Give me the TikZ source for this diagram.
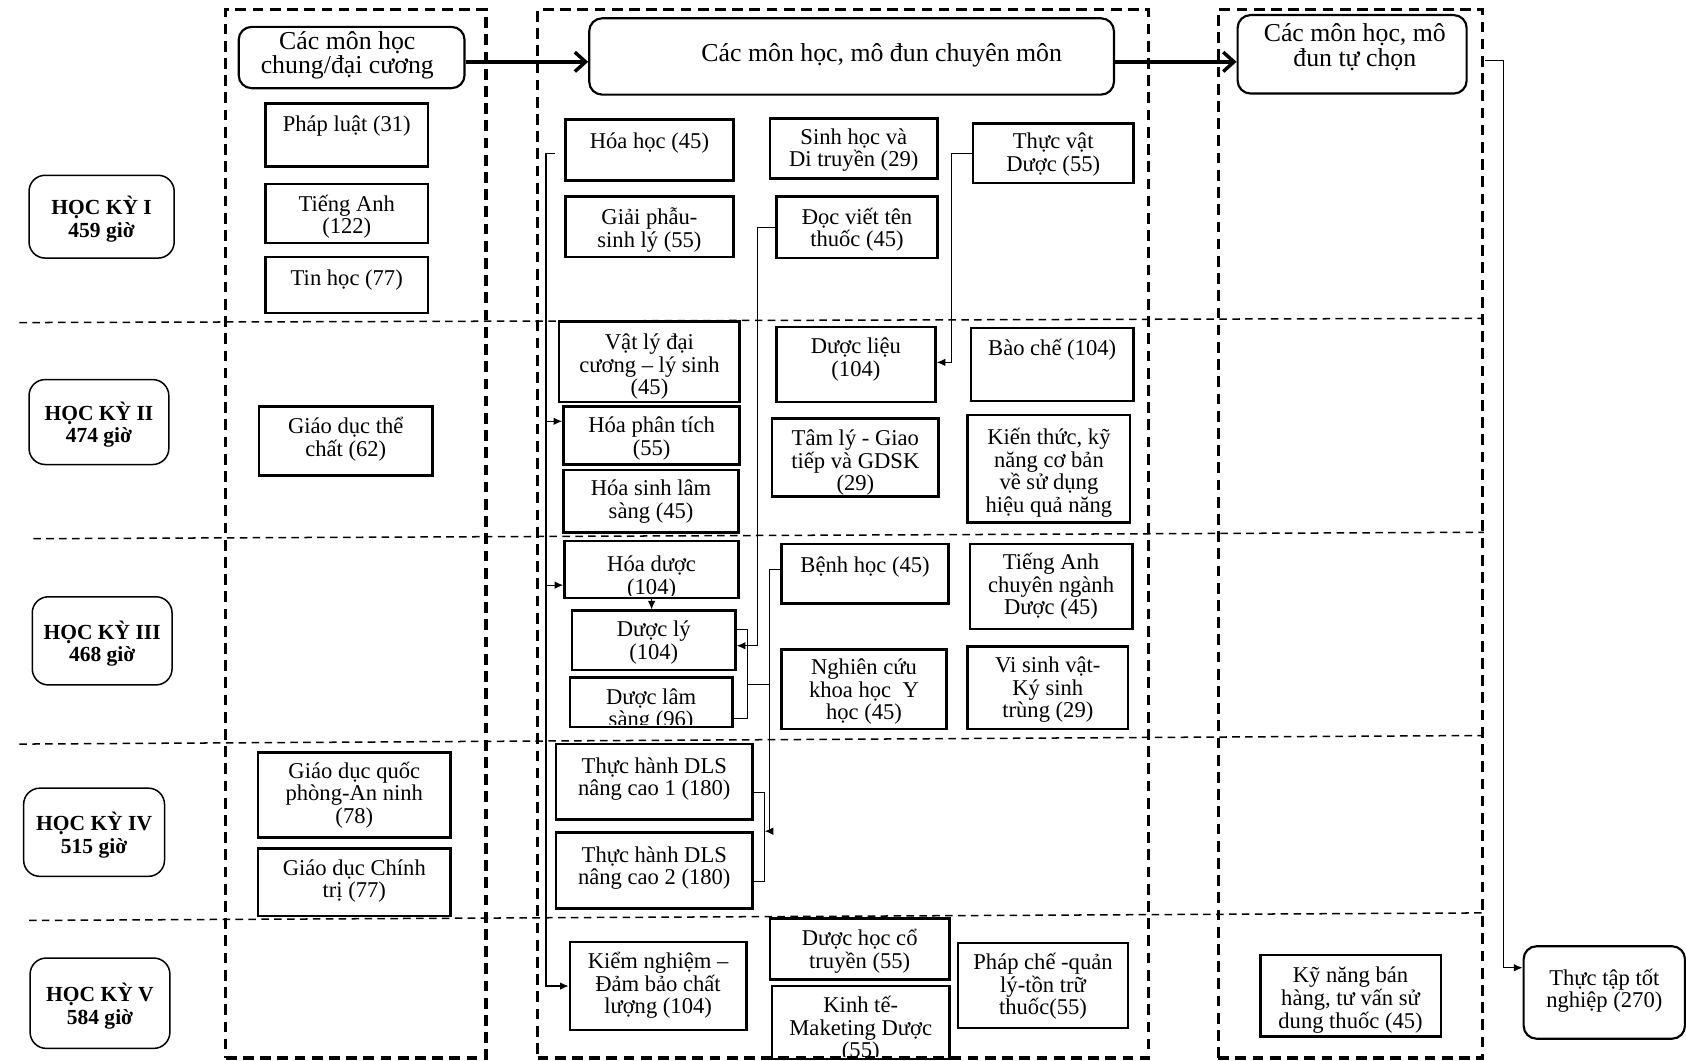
\documentclass[tikz,border=0pt]{standalone}
\usepackage{fontspec}
\setmainfont{Liberation Serif}
\usetikzlibrary{arrows.meta,calc}
\newcommand\bx[8][boxs]{%
  \begin{scope}
    \clip (#3,#4) rectangle (#5,#6-2);
    \node[txt] (#2t) at ({(#3+#5)/2},{#7+2}) {#8};
  \end{scope}
  \node[#1, minimum width={(#5-#3)*0.5pt}, minimum height={(#6-#4)*0.5pt}] (#2) at ({(#3+#5)/2},{(#4+#6)/2}) {};
}
\newcommand\sm[6]{%
  \node[sem, minimum width={(#4-#2)*0.5pt}, minimum height={(#5-#3)*0.5pt}] (#1) at ({(#2+#4)/2},{(#3+#5)/2}) {};
  \node[semtxt] (#1t) at ({(#2+#4)/2},{(#3+#5)/2+2.5}) {#6};
}
\newcommand\hd[8]{%
  \node[hdr, minimum width={(#4-#2)*0.5pt}, minimum height={(#5-#3)*0.5pt}] (#1) at ({(#2+#4)/2},{(#3+#5)/2}) {};
  \node[hdrtxt] (#1t) at (#6,{#7+3}) {#8};
}
\begin{document}
\begin{tikzpicture}[x=0.5pt,y=-0.5pt,
  boxs/.style={draw, line width=1.2pt, inner sep=0, rectangle},
  hdr/.style={draw, line width=1pt, rounded corners=6pt, inner sep=0},
  sem/.style={draw, line width=0.7pt, rounded corners=7.5pt, inner sep=0},
  semtxt/.style={inner sep=0, align=center, font=\fontsize{10}{10.5}\selectfont\bfseries},
  txt/.style={inner sep=0, align=center, font=\fontsize{10.5}{10.5}\selectfont},
  hdrtxt/.style={inner sep=0, align=center, font=\fontsize{12}{11.5}\selectfont},
  coldash/.style={draw, line width=1.5pt, dash pattern=on 5pt off 3pt, inner sep=0},
  rowdash/.style={line width=0.7pt, dash pattern=on 3.5pt off 2.5pt},
  ln/.style={line width=0.5pt},
  arr/.style={ln, -{Latex[length=4pt,width=3.5pt]}},
  bigarr/.style={line width=1.6pt, -{Straight Barb[length=5pt,width=9pt,line width=1.6pt]}},
]
\useasboundingbox (0,0) rectangle (1568,986);

% row separators
\draw[rowdash] (18,300) -- (1380,296);
\draw[rowdash] (31,501) -- (1380,495);
\draw[rowdash] (18,692) -- (1380,684);
\draw[rowdash] (27,856) -- (1380,849);

% columns
\node[coldash, minimum width={242*0.5pt}, minimum height={975*0.5pt}] (colL) at (331,496.5) {};
\node[coldash, minimum width={568*0.5pt}, minimum height={975*0.5pt}] (colM) at (784,496.5) {};
\node[coldash, minimum width={246*0.5pt}, minimum height={975*0.5pt}] (colR) at (1256,496.5) {};

% semesters
\sm{hk1}{27}{163}{162}{240}{HỌC KỲ I\\459 giờ}
\sm{hk2}{27}{353}{157}{432}{HỌC KỲ II\\474 giờ}
\sm{hk3}{30}{555}{160}{637}{HỌC KỲ III\\468 giờ}
\sm{hk4}{22}{733}{153}{815}{HỌC KỲ IV\\515 giờ}
\sm{hk5}{28}{891}{158}{975}{HỌC KỲ V\\584 giờ}

% headers
\hd{hdrL}{222}{25}{432}{82}{323}{48.5}{Các môn học\\chung/đại cương}
\hd{hdrM}{548}{17}{1036}{88}{820}{48}{Các môn học, mô đun chuyên môn}
\hd{hdrR}{1151}{14}{1364}{87}{1260}{41}{Các môn học, mô\\đun tự chọn}

% left column
\bx{phapluat}{247}{96}{398}{155}{115}{Pháp luật (31)}
\bx{tienganh}{247}{171}{398}{226}{199.5}{Tiếng Anh\\(122)}
\bx{tinhoc}{247}{239}{398}{291}{258}{Tin học (77)}
\bx{gdtc}{241}{378}{402}{442}{406.5}{Giáo dục thể\\chất (62)}
\bx{gdqp}{240}{700}{419}{779}{737.5}{Giáo dục quốc\\phòng-An ninh\\(78)}
\bx{gdct}{240}{789}{419}{852}{817.5}{Giáo dục Chính\\trị (77)}

% middle column
\bx{hoahoc}{526}{111}{682}{168}{131}{Hóa học (45)}
\bx{giaiphau}{526}{183}{682}{239}{212}{Giải phẫu-\\sinh lý (55)}
\bx{sinhhoc}{716}{110}{872}{166}{137.5}{Sinh học và\\Di truyền (29)}
\bx{docviet}{722}{183}{872}{240}{211.5}{Đọc viết tên\\thuốc (45)}
\bx{thucvat}{905}{115}{1054}{170}{141.5}{Thực vật\\Dược (55)}
\bx{vatly}{520}{299}{688}{374}{339}{Vật lý đại\\cương – lý sinh\\(45)}
\bx{duoclieu}{722}{304}{870}{374}{332.5}{Dược liệu\\(104)}
\bx{baoche}{903}{305}{1054}{373}{323}{Bào chế (104)}
\bx{hoapt}{524}{378}{688}{432}{406}{Hóa phân tích\\(55)}
\bx{tamly}{718}{389}{873}{462}{428.5}{Tâm lý - Giao\\tiếp và GDSK\\(29)}
\bx{kienthuc}{900}{386}{1051}{486}{437.5}{Kiến thức, kỹ\\năng cơ bản\\về sử dụng\\hiệu quả năng}
\bx{hoasinh}{524}{437}{687}{495}{464.5}{Hóa sinh lâm\\sàng (45)}
\bx{hoaduoc}{525}{503}{687}{556}{535}{Hóa dược\\(104)}
\bx{benhhoc}{727}{506}{882}{561}{525}{Bệnh học (45)}
\bx{tacn}{902}{506}{1053}{585}{543.5}{Tiếng Anh\\chuyên ngành\\Dược (45)}
\bx{duocly}{532}{568}{684}{623}{595.5}{Dược lý\\(104)}
\bx{duocls}{530}{630}{681}{676}{658.5}{Dược lâm\\sàng (96)}
\bx{nckh}{727}{604}{880}{678}{641.5}{Nghiên cứu\\khoa học\ \ Y\\học (45)}
\bx{visinh}{900}{601}{1049}{678}{639.5}{Vi sinh vật-\\Ký sinh\\trùng (29)}
\bx{th1}{517}{692}{700}{762}{722.5}{Thực hành DLS\\nâng cao 1 (180)}
\bx{th2}{517}{774}{700}{845}{805.5}{Thực hành DLS\\nâng cao 2 (180)}
\bx{kiemnghiem}{530}{876}{694}{958}{914.5}{Kiểm nghiệm –\\Đảm bảo chất\\lượng (104)}
\bx{yhct}{716}{854}{883}{911}{882.5}{Dược học cổ\\truyền (55)}
\bx{kinhte}{718}{917}{883}{985}{955.5}{Kinh tế-\\Maketing Dược\\(55)}
\bx{phapche}{891}{877}{1049}{956}{915.5}{Pháp chế -quản\\lý-tồn trữ\\thuốc(55)}

% right column
\bx{kynang}{1172}{888}{1340}{964}{928}{Kỹ năng bán\\hàng, tư vấn sử\\dung thuốc (45)}
\bx[hdr]{thuctap}{1417}{880}{1567}{966}{919.5}{Thực tập tốt\\nghiệp (270)}

% header arrows
\coordinate (a1) at ($(hdrL.east)+(0,4)$);
\draw[bigarr] (a1) -- (a1 -| hdrM.west);
\coordinate (a2) at ($(hdrM.east)+(0,5)$);
\draw[bigarr] (a2) -- (a2 -| hdrR.west);
\coordinate (a3) at ($(hdrR.east)+(16,6)$);
\draw[arr] (a3) -- ++(17,0) |- ($(thuctap.west)+(0,-23)$);

% Hoa hoc branch
\coordinate (j1) at ($(hoahoc.west)+(-9,3)$);
\draw[arr] (j1) -- ++(-8,0) coordinate (j1b) |- (kiemnghiem.west);
\coordinate (hpt) at ($(hoapt.north west)+(0,15)$);
\draw[arr] (j1b |- hpt) -- (hpt);
\coordinate (hdu) at ($(hoaduoc.south west)+(0,-13)$);
\draw[arr] (j1b |- hdu) -- (hdu);

% Doc viet -> Duoc ly
\draw[arr] (docviet.west) -- ++(-16,0) |- ($(duocly.east)+(0,5)$);
% Thuc vat -> Duoc lieu
\draw[arr] (thucvat.west) -- ++(-19,0) |- ($(duoclieu.east)+(0,-2)$);
% Hoa duoc -> Duoc ly
\draw[arr] (hoaduoc.south) -- (hoaduoc.south |- duocly.north);
% bracket Duoc ly / Duoc lam sang
\draw[ln] ($(duocly.east)+(0,-10)$) -- ++(10,0) |- ($(duocls.east)+(0,15)$);
\coordinate (br1) at ($(duocly.east)+(10,41)$);
% bracket DLS 1 / 2
\draw[ln] ($(th1.east)+(0,10)$) -- ++(10,0) |- ($(th2.east)+(0,10)$);
\coordinate (br2) at ($(th1.east)+(10,46)$);
% Benh hoc -> DLS
\draw[arr] ($(benhhoc.west)+(0,-4)$) -- ++(-10,0) coordinate (j6) |- (br2);
\draw[ln] (br1) -- (br1 -| j6);
\end{tikzpicture}
\end{document}
